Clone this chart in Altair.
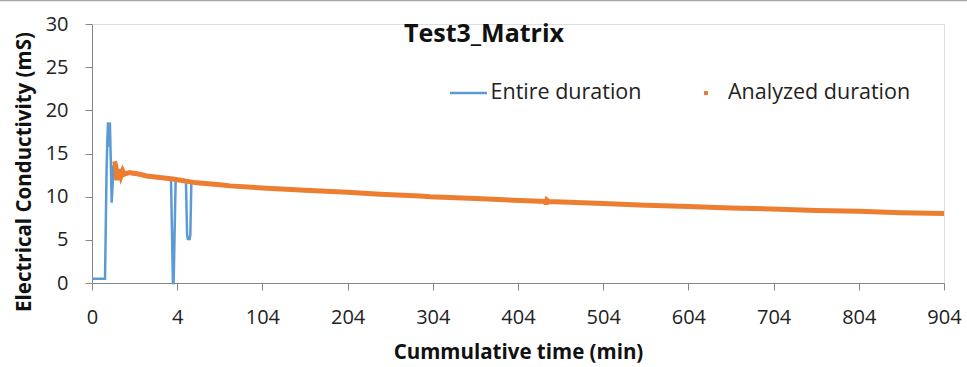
import altair as alt
import pandas as pd

# Time in axis-label minutes (first tick at -96 is labelled "0")
blue_t = [-96, -80.7, -78.9, -78.0, -77.2, -76.2, -75.0, -73.8, -72.9, -71.4, -70.7, -69,
          -56, -32, -3.3, -1.0, -0.2, 2.2, 14.3, 15.6, 16.5, 18.6, 19.4, 20.6,
          27, 54, 66, 104, 154, 204, 242, 289, 301, 354, 406, 436, 504, 554, 604,
          654, 711, 754, 804, 854, 904]
blue_v = [0.5, 0.5, 13.1, 16.5, 18.6, 15.8, 18.6, 13.5, 9.3, 12.2, 13.7, 12.8,
          12.7, 12.4, 12.05, 0, 0, 12.0, 11.7, 5.6, 5.1, 5.1, 5.6, 11.6,
          11.6, 11.37, 11.25, 11.0, 10.75, 10.5, 10.29, 10.09, 10.0, 9.8, 9.55, 9.45, 9.2, 9.0, 8.85,
          8.7, 8.55, 8.4, 8.3, 8.15, 8.05]

orange_t = [-69.5, -68, -67, -66, -65, -64, -62, -60, -58, -52, -40, -32, -1, 27, 54, 66,
            104, 154, 204, 242, 289, 301, 354, 406, 436, 437, 438, 440, 504, 554, 604,
            654, 711, 754, 804, 854, 904]
orange_v = [14.1, 13.5, 11.9, 12.9, 12.1, 13.2, 12.4, 13.0, 12.6, 12.8, 12.6, 12.4, 12.05,
            11.6, 11.37, 11.25, 11.0, 10.75, 10.5, 10.29, 10.09, 10.0, 9.8, 9.55, 9.45,
            9.1, 9.6, 9.45, 9.2, 9.0, 8.85, 8.7, 8.55, 8.4, 8.3, 8.15, 8.05]

x_ticks = [-96, 4, 104, 204, 304, 404, 504, 604, 704, 804, 904]
y_ticks = [0, 5, 10, 15, 20, 25, 30]

FONT = "Open Sans"
BLUE = "#5B9BD5"
ORANGE = "#ED7D31"

blue_df = pd.DataFrame({"t": blue_t, "v": blue_v})
orange_df = pd.DataFrame({"t": orange_t, "v": orange_v})

W, H = 852, 259

xscale = alt.Scale(domain=[-96, 904], nice=False, zero=False)
yscale = alt.Scale(domain=[0, 30], nice=False)

xaxis = alt.Axis(values=x_ticks, labelExpr="datum.value < 0 ? '0' : datum.label",
                 title="Cummulative time (min)", grid=False, domainColor="#868686",
                 tickColor="#868686", tickSize=7, labelFont=FONT, labelFontSize=20,
                 labelColor="#222", labelPadding=17, titleFont=FONT, titleFontSize=20.5,
                 titleFontWeight="bold", titleColor="#111", titleY=69, titleBaseline="middle",
                 labelFlush=False)
yaxis = alt.Axis(values=y_ticks, title="Electrical Conductivity (mS)", grid=False,
                 domainColor="#868686", tickColor="#868686", tickSize=7, labelFont=FONT,
                 labelFontSize=20, labelColor="#222", labelPadding=17, titleFont=FONT,
                 titleFontSize=20.5, titleFontWeight="bold", titleColor="#111",
                 titleX=-68, titleY=147.5, titleAngle=270, titleAlign="center",
                 titleBaseline="middle", labelFlush=False)

blue = alt.Chart(blue_df).mark_line(color=BLUE, strokeWidth=2.5).encode(
    x=alt.X("t:Q", scale=xscale, axis=xaxis),
    y=alt.Y("v:Q", scale=yscale, axis=yaxis),
    order="t:Q",
)
orange = alt.Chart(orange_df).mark_line(color=ORANGE, strokeWidth=5).encode(
    x=alt.X("t:Q", scale=xscale),
    y=alt.Y("v:Q", scale=yscale),
    order="t:Q",
)

title = alt.Chart(pd.DataFrame({"s": ["Test3_Matrix"]})).mark_text(
    font=FONT, fontSize=25, fontWeight="bold", color="#111", baseline="middle", align="center"
).encode(text="s:N", x=alt.value(392), y=alt.value(10))

leg_line = alt.Chart(pd.DataFrame({"a": [0]})).mark_rule(color=BLUE, strokeWidth=2.5).encode(
    x=alt.value(358), x2=alt.value(395), y=alt.value(69))
leg_sq = alt.Chart(pd.DataFrame({"a": [0]})).mark_square(color=ORANGE, size=16, opacity=1).encode(
    x=alt.value(614), y=alt.value(69))
leg_txt1 = alt.Chart(pd.DataFrame({"s": ["Entire duration"]})).mark_text(
    font=FONT, fontSize=21.5, color="#222", align="left", baseline="middle"
).encode(text="s:N", x=alt.value(398.5), y=alt.value(69))
leg_txt2 = alt.Chart(pd.DataFrame({"s": ["Analyzed duration"]})).mark_text(
    font=FONT, fontSize=21.5, color="#222", align="left", baseline="middle"
).encode(text="s:N", x=alt.value(636), y=alt.value(69))

border = alt.Chart(pd.DataFrame({"a": [0]})).mark_rule(color="#a6a6a6", strokeWidth=1.5).encode(
    x=alt.value(-92), x2=alt.value(875), y=alt.value(-23.5))

chart = alt.layer(blue, orange, title, leg_line, leg_sq, leg_txt1, leg_txt2, border).properties(
    width=W, height=H,
    autosize=alt.AutoSizeParams(type="none"),
    padding={"left": 92, "top": 24, "right": 23, "bottom": 84},
).configure_view(stroke=None).configure(background="white")

chart.save("out.html", embed_options={"renderer": "svg", "actions": False})
